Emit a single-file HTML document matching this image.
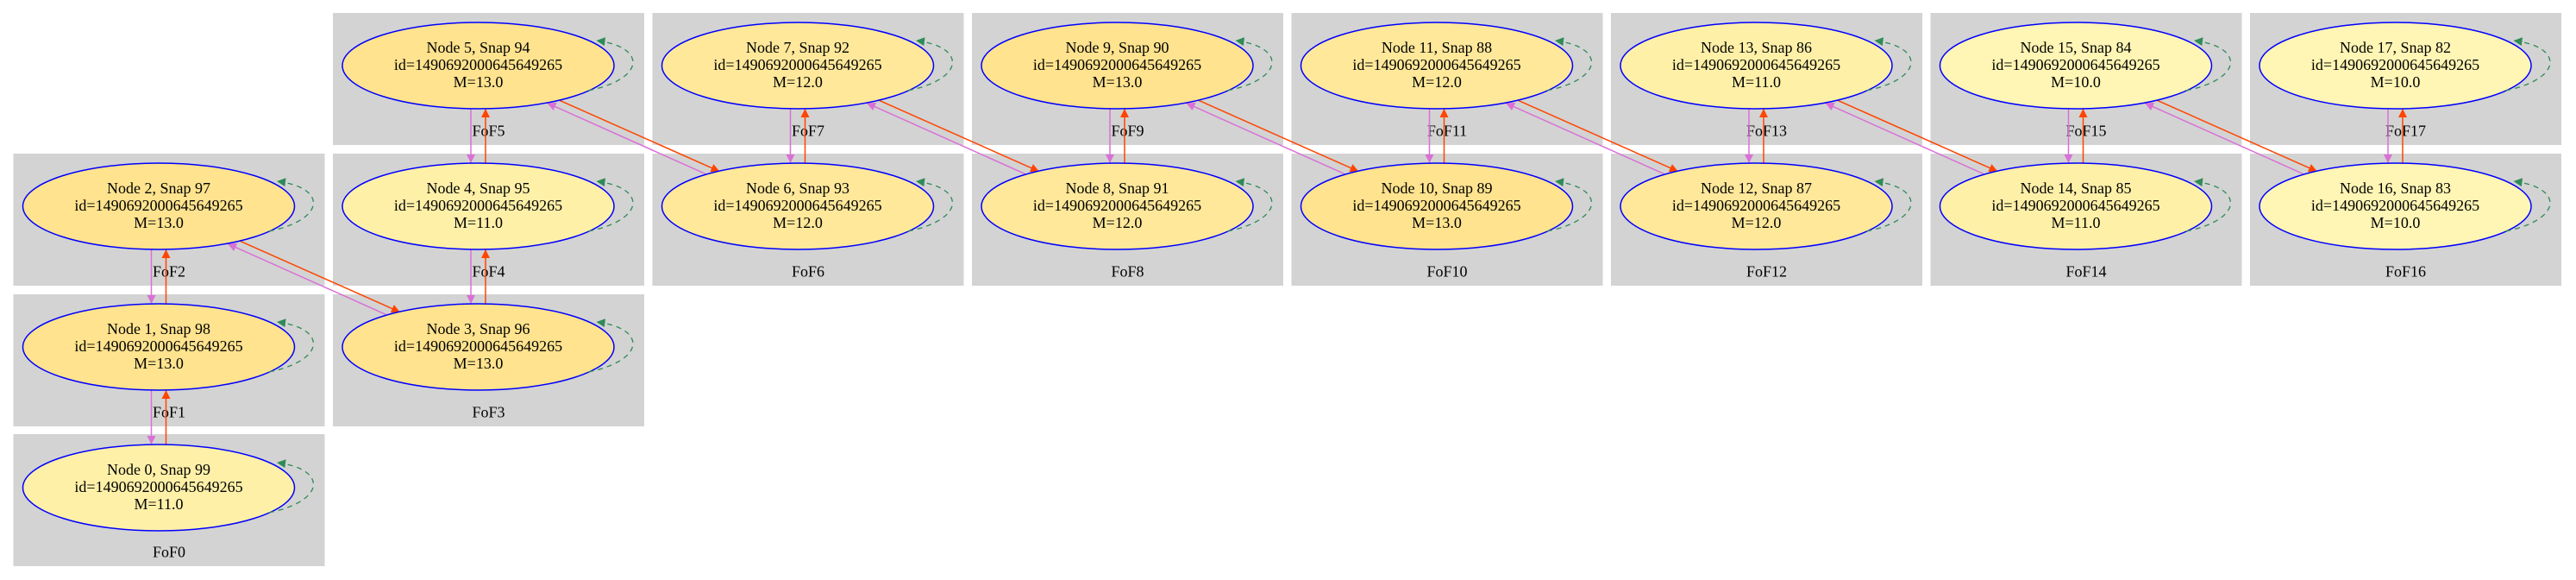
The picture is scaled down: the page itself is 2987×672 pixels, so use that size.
<!DOCTYPE html>
<html><head><meta charset="utf-8"><style>
html,body{margin:0;padding:0;background:#fff}
svg{display:block}
text{font-family:"Liberation Serif",serif;font-size:18px;fill:#000;text-anchor:middle}
</style></head><body>
<svg width="2987" height="672" viewBox="0 0 2987 672" xmlns="http://www.w3.org/2000/svg">
<defs>
<marker id="ao" viewBox="0 0 10 10" refX="10" refY="5" markerUnits="userSpaceOnUse" markerWidth="15" markerHeight="10" orient="auto"><path d="M0,0L10,5L0,10z" fill="#ff4500"/></marker>
<marker id="av" viewBox="0 0 10 10" refX="10" refY="5" markerUnits="userSpaceOnUse" markerWidth="15" markerHeight="10" orient="auto"><path d="M0,0L10,5L0,10z" fill="#da70d6"/></marker>
<marker id="ag" viewBox="0 0 10 10" refX="10" refY="5" markerUnits="userSpaceOnUse" markerWidth="15" markerHeight="10" orient="auto"><path d="M0,0L10,5L0,10z" fill="#2e8b57"/></marker>
<g id="loop"><path d="M128,29 C195,15 195,-22 137,-29" fill="none" stroke="#2e8b57" stroke-width="1.3" stroke-dasharray="6,5" marker-end="url(#ag)"/></g>
</defs>
<g fill="#d3d3d3">
<rect x="15.5" y="178" width="361" height="153"/>
<rect x="15.5" y="341" width="361" height="153"/>
<rect x="15.5" y="503" width="361" height="153"/>
<rect x="386" y="15" width="361" height="153"/>
<rect x="386" y="178" width="361" height="153"/>
<rect x="386" y="341" width="361" height="153"/>
<rect x="756.5" y="15" width="361" height="153"/>
<rect x="756.5" y="178" width="361" height="153"/>
<rect x="1127" y="15" width="361" height="153"/>
<rect x="1127" y="178" width="361" height="153"/>
<rect x="1497.5" y="15" width="361" height="153"/>
<rect x="1497.5" y="178" width="361" height="153"/>
<rect x="1868" y="15" width="361" height="153"/>
<rect x="1868" y="178" width="361" height="153"/>
<rect x="2238.5" y="15" width="361" height="153"/>
<rect x="2238.5" y="178" width="361" height="153"/>
<rect x="2609" y="15" width="361" height="153"/>
<rect x="2609" y="178" width="361" height="153"/>
</g>
<text x="196" y="320.5">FoF2</text>
<text x="196" y="483.5">FoF1</text>
<text x="196" y="645.5">FoF0</text>
<text x="566.5" y="157.5">FoF5</text>
<text x="566.5" y="320.5">FoF4</text>
<text x="566.5" y="483.5">FoF3</text>
<text x="937" y="157.5">FoF7</text>
<text x="937" y="320.5">FoF6</text>
<text x="1307.5" y="157.5">FoF9</text>
<text x="1307.5" y="320.5">FoF8</text>
<text x="1678" y="157.5">FoF11</text>
<text x="1678" y="320.5">FoF10</text>
<text x="2048.5" y="157.5">FoF13</text>
<text x="2048.5" y="320.5">FoF12</text>
<text x="2419" y="157.5">FoF15</text>
<text x="2419" y="320.5">FoF14</text>
<text x="2789.5" y="157.5">FoF17</text>
<text x="2789.5" y="320.5">FoF16</text>

<g stroke-width="1.5" fill="none">
<g transform="translate(184,402)"><path d="M-8.5,50L-8.5,113" stroke="#da70d6" marker-end="url(#av)"/><path d="M8.5,113L8.5,50" stroke="#ff4500" marker-end="url(#ao)"/></g>
<g transform="translate(184,239)"><path d="M-8.5,50L-8.5,113" stroke="#da70d6" marker-end="url(#av)"/><path d="M8.5,113L8.5,50" stroke="#ff4500" marker-end="url(#ao)"/></g>
<g transform="translate(554.5,76)"><path d="M-8.5,50L-8.5,113" stroke="#da70d6" marker-end="url(#av)"/><path d="M8.5,113L8.5,50" stroke="#ff4500" marker-end="url(#ao)"/></g>
<g transform="translate(554.5,239)"><path d="M-8.5,50L-8.5,113" stroke="#da70d6" marker-end="url(#av)"/><path d="M8.5,113L8.5,50" stroke="#ff4500" marker-end="url(#ao)"/></g>
<g transform="translate(925,76)"><path d="M-8.5,50L-8.5,113" stroke="#da70d6" marker-end="url(#av)"/><path d="M8.5,113L8.5,50" stroke="#ff4500" marker-end="url(#ao)"/></g>
<g transform="translate(1295.5,76)"><path d="M-8.5,50L-8.5,113" stroke="#da70d6" marker-end="url(#av)"/><path d="M8.5,113L8.5,50" stroke="#ff4500" marker-end="url(#ao)"/></g>
<g transform="translate(1666,76)"><path d="M-8.5,50L-8.5,113" stroke="#da70d6" marker-end="url(#av)"/><path d="M8.5,113L8.5,50" stroke="#ff4500" marker-end="url(#ao)"/></g>
<g transform="translate(2036.5,76)"><path d="M-8.5,50L-8.5,113" stroke="#da70d6" marker-end="url(#av)"/><path d="M8.5,113L8.5,50" stroke="#ff4500" marker-end="url(#ao)"/></g>
<g transform="translate(2407,76)"><path d="M-8.5,50L-8.5,113" stroke="#da70d6" marker-end="url(#av)"/><path d="M8.5,113L8.5,50" stroke="#ff4500" marker-end="url(#ao)"/></g>
<g transform="translate(2777.5,76)"><path d="M-8.5,50L-8.5,113" stroke="#da70d6" marker-end="url(#av)"/><path d="M8.5,113L8.5,50" stroke="#ff4500" marker-end="url(#ao)"/></g>

<g transform="translate(184,239)"><path d="M94.7,40.4L280,122.7" stroke="#ff4500" marker-end="url(#ao)"/><path d="M264,125.7L80,43.4" stroke="#da70d6" marker-end="url(#av)"/></g>
<g transform="translate(554.5,76)"><path d="M94.7,40.4L280,122.7" stroke="#ff4500" marker-end="url(#ao)"/><path d="M264,125.7L80,43.4" stroke="#da70d6" marker-end="url(#av)"/></g>
<g transform="translate(925,76)"><path d="M94.7,40.4L280,122.7" stroke="#ff4500" marker-end="url(#ao)"/><path d="M264,125.7L80,43.4" stroke="#da70d6" marker-end="url(#av)"/></g>
<g transform="translate(1295.5,76)"><path d="M94.7,40.4L280,122.7" stroke="#ff4500" marker-end="url(#ao)"/><path d="M264,125.7L80,43.4" stroke="#da70d6" marker-end="url(#av)"/></g>
<g transform="translate(1666,76)"><path d="M94.7,40.4L280,122.7" stroke="#ff4500" marker-end="url(#ao)"/><path d="M264,125.7L80,43.4" stroke="#da70d6" marker-end="url(#av)"/></g>
<g transform="translate(2036.5,76)"><path d="M94.7,40.4L280,122.7" stroke="#ff4500" marker-end="url(#ao)"/><path d="M264,125.7L80,43.4" stroke="#da70d6" marker-end="url(#av)"/></g>
<g transform="translate(2407,76)"><path d="M94.7,40.4L280,122.7" stroke="#ff4500" marker-end="url(#ao)"/><path d="M264,125.7L80,43.4" stroke="#da70d6" marker-end="url(#av)"/></g>
</g>

<g transform="translate(184,565)"><ellipse rx="157.5" ry="50" fill="#fff0a8" stroke="#0000ff" stroke-width="1.5"/><use href="#loop"/><text y="-15">Node 0, Snap 99</text><text y="5">id=1490692000645649265</text><text y="25">M=11.0</text></g>
<g transform="translate(184,402)"><ellipse rx="157.5" ry="50" fill="#ffe38e" stroke="#0000ff" stroke-width="1.5"/><use href="#loop"/><text y="-15">Node 1, Snap 98</text><text y="5">id=1490692000645649265</text><text y="25">M=13.0</text></g>
<g transform="translate(184,239)"><ellipse rx="157.5" ry="50" fill="#ffe38e" stroke="#0000ff" stroke-width="1.5"/><use href="#loop"/><text y="-15">Node 2, Snap 97</text><text y="5">id=1490692000645649265</text><text y="25">M=13.0</text></g>
<g transform="translate(554.5,402)"><ellipse rx="157.5" ry="50" fill="#ffe38e" stroke="#0000ff" stroke-width="1.5"/><use href="#loop"/><text y="-15">Node 3, Snap 96</text><text y="5">id=1490692000645649265</text><text y="25">M=13.0</text></g>
<g transform="translate(554.5,239)"><ellipse rx="157.5" ry="50" fill="#fff0a8" stroke="#0000ff" stroke-width="1.5"/><use href="#loop"/><text y="-15">Node 4, Snap 95</text><text y="5">id=1490692000645649265</text><text y="25">M=11.0</text></g>
<g transform="translate(554.5,76)"><ellipse rx="157.5" ry="50" fill="#ffe38e" stroke="#0000ff" stroke-width="1.5"/><use href="#loop"/><text y="-15">Node 5, Snap 94</text><text y="5">id=1490692000645649265</text><text y="25">M=13.0</text></g>
<g transform="translate(925,239)"><ellipse rx="157.5" ry="50" fill="#ffe89a" stroke="#0000ff" stroke-width="1.5"/><use href="#loop"/><text y="-15">Node 6, Snap 93</text><text y="5">id=1490692000645649265</text><text y="25">M=12.0</text></g>
<g transform="translate(925,76)"><ellipse rx="157.5" ry="50" fill="#ffe89a" stroke="#0000ff" stroke-width="1.5"/><use href="#loop"/><text y="-15">Node 7, Snap 92</text><text y="5">id=1490692000645649265</text><text y="25">M=12.0</text></g>
<g transform="translate(1295.5,239)"><ellipse rx="157.5" ry="50" fill="#ffe89a" stroke="#0000ff" stroke-width="1.5"/><use href="#loop"/><text y="-15">Node 8, Snap 91</text><text y="5">id=1490692000645649265</text><text y="25">M=12.0</text></g>
<g transform="translate(1295.5,76)"><ellipse rx="157.5" ry="50" fill="#ffe38e" stroke="#0000ff" stroke-width="1.5"/><use href="#loop"/><text y="-15">Node 9, Snap 90</text><text y="5">id=1490692000645649265</text><text y="25">M=13.0</text></g>
<g transform="translate(1666,239)"><ellipse rx="157.5" ry="50" fill="#ffe38e" stroke="#0000ff" stroke-width="1.5"/><use href="#loop"/><text y="-15">Node 10, Snap 89</text><text y="5">id=1490692000645649265</text><text y="25">M=13.0</text></g>
<g transform="translate(1666,76)"><ellipse rx="157.5" ry="50" fill="#ffe89a" stroke="#0000ff" stroke-width="1.5"/><use href="#loop"/><text y="-15">Node 11, Snap 88</text><text y="5">id=1490692000645649265</text><text y="25">M=12.0</text></g>
<g transform="translate(2036.5,239)"><ellipse rx="157.5" ry="50" fill="#ffe89a" stroke="#0000ff" stroke-width="1.5"/><use href="#loop"/><text y="-15">Node 12, Snap 87</text><text y="5">id=1490692000645649265</text><text y="25">M=12.0</text></g>
<g transform="translate(2036.5,76)"><ellipse rx="157.5" ry="50" fill="#fff0a8" stroke="#0000ff" stroke-width="1.5"/><use href="#loop"/><text y="-15">Node 13, Snap 86</text><text y="5">id=1490692000645649265</text><text y="25">M=11.0</text></g>
<g transform="translate(2407,239)"><ellipse rx="157.5" ry="50" fill="#fff0a8" stroke="#0000ff" stroke-width="1.5"/><use href="#loop"/><text y="-15">Node 14, Snap 85</text><text y="5">id=1490692000645649265</text><text y="25">M=11.0</text></g>
<g transform="translate(2407,76)"><ellipse rx="157.5" ry="50" fill="#fff5b4" stroke="#0000ff" stroke-width="1.5"/><use href="#loop"/><text y="-15">Node 15, Snap 84</text><text y="5">id=1490692000645649265</text><text y="25">M=10.0</text></g>
<g transform="translate(2777.5,239)"><ellipse rx="157.5" ry="50" fill="#fff5b4" stroke="#0000ff" stroke-width="1.5"/><use href="#loop"/><text y="-15">Node 16, Snap 83</text><text y="5">id=1490692000645649265</text><text y="25">M=10.0</text></g>
<g transform="translate(2777.5,76)"><ellipse rx="157.5" ry="50" fill="#fff5b4" stroke="#0000ff" stroke-width="1.5"/><use href="#loop"/><text y="-15">Node 17, Snap 82</text><text y="5">id=1490692000645649265</text><text y="25">M=10.0</text></g>
</svg>
</body></html>
